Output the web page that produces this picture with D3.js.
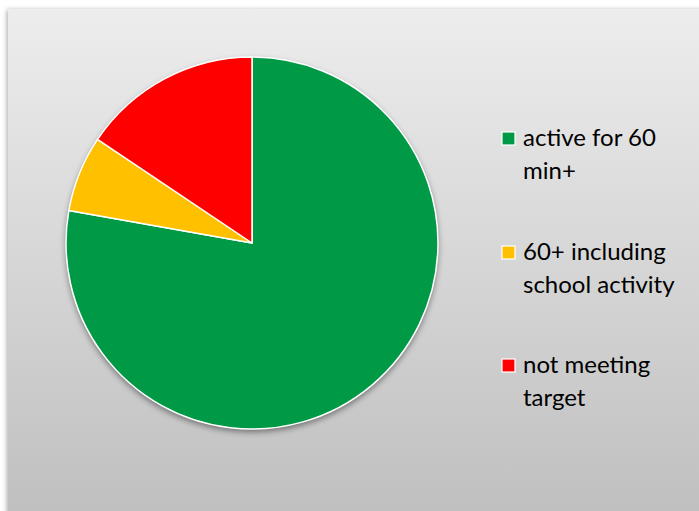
<!DOCTYPE html>
<html>
<head>
<meta charset="utf-8">
<script src="https://cdn.jsdelivr.net/npm/d3@7"></script>
<style>
  html, body { margin: 0; padding: 0; background: #ffffff; }
  svg { display: block; }
</style>
</head>
<body>
<svg id="chart" width="699" height="511"></svg>
<script>
// Share of pupils by daily activity level (percent)
const categories = ["active for 60 min+", "60+ including school activity", "not meeting target"];
const legendLines = [["active for 60", "min+"], ["60+ including", "school activity"], ["not meeting", "target"]];
const values = [77.8, 6.6, 15.6];
const colors = ["#009a46", "#ffc000", "#ff0000"];

const svg = d3.select("#chart");
const W = 699, H = 511;

const defs = svg.append("defs");

// panel background gradient
const grad = defs.append("linearGradient")
  .attr("id", "panelGrad").attr("x1", 0).attr("y1", 0).attr("x2", 0).attr("y2", 1);
grad.append("stop").attr("offset", "0%").attr("stop-color", "#ededed");
grad.append("stop").attr("offset", "100%").attr("stop-color", "#bdbdbd");

// soft shadow for panel
const panelShadow = defs.append("filter").attr("id", "panelShadow")
  .attr("x", "-5%").attr("y", "-5%").attr("width", "110%").attr("height", "110%");
panelShadow.append("feDropShadow")
  .attr("dx", -1).attr("dy", 1).attr("stdDeviation", 2.5)
  .attr("flood-color", "#000").attr("flood-opacity", 0.35);

// drop shadow under the pie
const pieShadow = defs.append("filter").attr("id", "pieShadow")
  .attr("x", "-10%").attr("y", "-10%").attr("width", "120%").attr("height", "125%");
pieShadow.append("feDropShadow")
  .attr("dx", 0).attr("dy", 3).attr("stdDeviation", 3)
  .attr("flood-color", "#000").attr("flood-opacity", 0.45);

svg.append("rect")
  .attr("x", 8).attr("y", 9)
  .attr("width", W + 20).attr("height", H + 20)
  .attr("fill", "url(#panelGrad)")
  .attr("filter", "url(#panelShadow)");

// pie
const cx = 252, cy = 243, R = 186;
const pie = d3.pie().sort(null).value(d => d)(values);
const arc = d3.arc().innerRadius(0).outerRadius(R);

const pieG = svg.append("g").attr("transform", `translate(${cx},${cy})`);

pieG.append("circle").attr("r", R).attr("fill", "#ffffff").attr("filter", "url(#pieShadow)");

pieG.selectAll("path.slice")
  .data(pie)
  .join("path")
  .attr("class", "slice")
  .attr("d", arc)
  .attr("fill", (d, i) => colors[i])
  .attr("stroke", "#ffffff")
  .attr("stroke-width", 1.5)
  .attr("stroke-linejoin", "round");

// legend
const legend = svg.append("g").attr("font-family", "Lato, 'Open Sans', sans-serif")
  .attr("font-size", 24).attr("fill", "#000");
const itemY = [146, 260, 373];
const lineGap = 32.5;

categories.forEach((c, i) => {
  const g = legend.append("g").attr("transform", `translate(0,${itemY[i]})`);
  g.append("rect")
    .attr("x", 502).attr("y", -14)
    .attr("width", 13).attr("height", 13)
    .attr("fill", colors[i])
    .attr("stroke", "#ffffff").attr("stroke-width", 1.2);
  const t = g.append("text").attr("x", 523).attr("y", 0);
  legendLines[i].forEach((ln, j) => {
    t.append("tspan").attr("x", 523).attr("y", j * lineGap).text(ln);
  });
});
</script>
</body>
</html>
